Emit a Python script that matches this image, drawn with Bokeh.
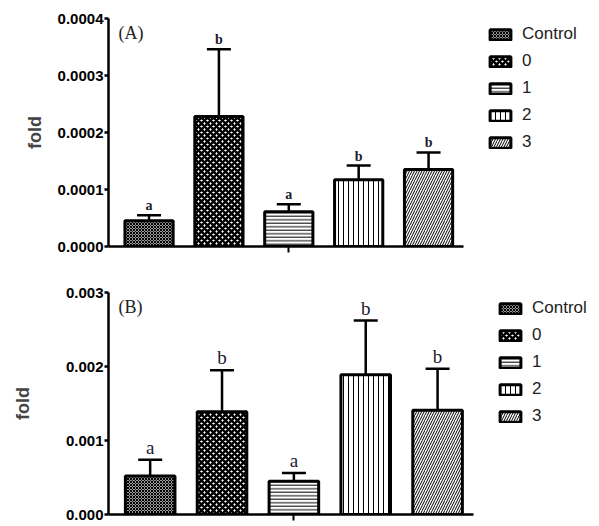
from bokeh.plotting import figure
from bokeh.models import (ColumnDataSource, Whisker, TeeHead, Legend, LegendItem,
                          Label, FixedTicker, PrintfTickFormatter, Range1d)
from bokeh.layouts import column
from bokeh.embed import file_html
from bokeh.resources import INLINE
from bokeh.core.properties import value

groups = ["Control", "0", "1", "2", "3"]
positions = [1, 2, 3, 4, 5]

a_mean = [0.000045, 0.000228, 0.000061, 0.000117, 0.000135]
a_err = [0.000010, 0.000118, 0.000013, 0.000025, 0.000030]
a_letters = ["a", "b", "a", "b", "b"]
a_ticks = [0.0, 0.0001, 0.0002, 0.0003, 0.0004]

b_mean = [0.00052, 0.00139, 0.00045, 0.00189, 0.00141]
b_err = [0.00022, 0.00056, 0.00011, 0.00073, 0.00056]
b_letters = ["a", "b", "a", "b", "b"]
b_ticks = [0.0, 0.001, 0.002, 0.003]

fills = ["#9a9a9a", "white", "white", "white", "white"]
hatches = ["diagonal_cross", "diagonal_cross", "horizontal_line", "vertical_line", "right_diagonal_line"]
hscale = [3.0, 6.0, 3.5, 5.0, 5.0]
hweight = [1.0, 2.5, 1.0, 1.0, 1.0]


def make_panel(means, errs, letters, ticks, fmt, ymax, frame_w, frame_h,
               border_top, panel_label, letter_size, letter_bold, label_standoff,
               legend_loc):
    upper = [m + e for m, e in zip(means, errs)]
    src = ColumnDataSource(dict(x=positions, top=means, upper=upper, lab=letters,
                                fill=fills, hatch=hatches, hs=hscale, hw=hweight,
                                name=groups))
    p = figure(output_backend="svg", toolbar_location=None,
               frame_width=frame_w, frame_height=frame_h,
               x_range=Range1d(0.42, 5.5), y_range=Range1d(0, ymax),
               min_border_left=108, min_border_top=border_top,
               min_border_bottom=9, min_border_right=0)
    p.outline_line_color = None
    p.xgrid.visible = False
    p.ygrid.visible = False
    p.background_fill_color = "white"
    p.border_fill_color = "white"

    r = p.vbar(x="x", top="top", bottom=0, width=0.69, source=src,
               fill_color="fill", line_color="black", line_width=3,
               hatch_pattern="hatch", hatch_color="black",
               hatch_scale="hs", hatch_weight="hw")

    w = Whisker(base="x", upper="upper", lower="top", source=src,
                line_color="black", line_width=2.5,
                upper_head=TeeHead(size=24, line_width=2.5, line_color="black"),
                lower_head=None)
    p.add_layout(w)

    p.text(x="x", y="upper", text="lab", source=src, y_offset=-2,
           text_align="center", text_baseline="bottom",
           text_font=value("Liberation Serif"),
           text_font_size=letter_size,
           text_font_style="bold" if letter_bold else "normal",
           text_color="#1a1a2e")

    p.add_layout(Label(x=10, y=frame_h - 4, x_units="screen", y_units="screen",
                       text=panel_label, text_font="Liberation Serif",
                       text_font_size="18px", text_baseline="top",
                       text_color="#222222"))

    yax = p.yaxis[0]
    yax.ticker = FixedTicker(ticks=ticks)
    yax.formatter = PrintfTickFormatter(format=fmt)
    yax.major_label_text_font = "Liberation Sans"
    yax.major_label_text_font_style = "bold"
    yax.major_label_text_font_size = "15px"
    yax.major_label_text_color = "black"
    yax.axis_line_width = 2.5
    yax.major_tick_line_width = 2.5
    yax.major_tick_out = 4
    yax.major_tick_in = 0
    yax.minor_tick_line_color = None
    yax.major_label_standoff = 1
    yax.axis_label = "fold"
    yax.axis_label_text_font = "Liberation Sans"
    yax.axis_label_text_font_style = "bold"
    yax.axis_label_text_font_size = "18px"
    yax.axis_label_standoff = label_standoff

    xax = p.xaxis[0]
    xax.ticker = FixedTicker(ticks=[3])
    xax.major_label_text_font_size = "0px"
    xax.major_label_text_color = None
    xax.axis_line_width = 2.5
    xax.major_tick_line_width = 2
    xax.major_tick_out = 6
    xax.major_tick_in = 0
    xax.minor_tick_line_color = None
    xax.major_label_standoff = 0

    items = [LegendItem(label=g, renderers=[r], index=i) for i, g in enumerate(groups)]
    leg = Legend(items=items, location=legend_loc, margin=0, padding=0,
                 border_line_color=None, background_fill_alpha=0,
                 glyph_width=26, glyph_height=13, label_height=13,
                 spacing=7, label_standoff=9,
                 label_text_font="Liberation Sans", label_text_font_size="17px",
                 label_text_color="#222222", label_text_baseline="middle")
    p.add_layout(leg, "right")
    return p


pa = make_panel(a_mean, a_err, a_letters, a_ticks, "%.4f", 0.0004, 355, 228, 18,
                "(A)", "14px", True, 10, (24, 94))
pb = make_panel(b_mean, b_err, b_letters, b_ticks, "%.3f", 0.003, 365, 222, 37,
                "(B)", "19px", False, 30, (24, 88))

layout = column(pa, pb, spacing=0)
open("out.html", "w").write(file_html(layout, INLINE))
